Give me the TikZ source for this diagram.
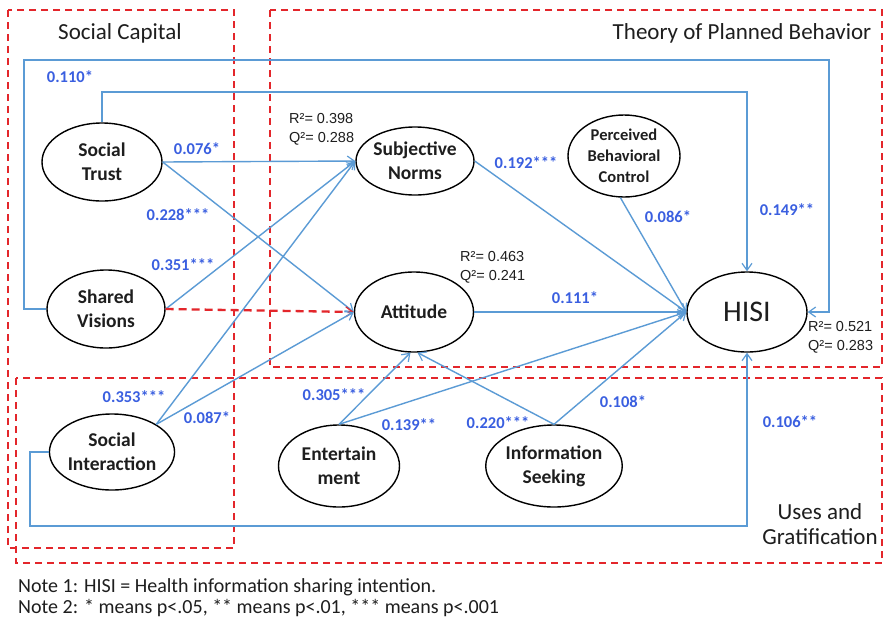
\documentclass[tikz,border=0pt]{standalone}
\usepackage{fontspec}
\setmainfont{Carlito}
\newfontfamily\arialf{Liberation Sans}
\usetikzlibrary{shapes.geometric,arrows.meta}
\definecolor{lblue}{HTML}{5B9BD5}
\definecolor{tblue}{HTML}{3A5FE0}
\definecolor{dred}{HTML}{E3262B}
\definecolor{txt}{HTML}{1E1E1E}
\begin{document}
\begin{tikzpicture}[x=1pt,y=-1pt,
  ell/.style={ellipse, draw=black, line width=1.4pt, inner sep=0pt, align=center,
    font=\fontsize{19.5}{24}\selectfont\bfseries, text=txt},
  bl/.style={draw=lblue, line width=1.4pt},
  arr/.style={-{Straight Barb[length=7pt,width=10pt,line width=1.2pt]}},
  coef/.style={font=\fontsize{16.5}{18}\selectfont\bfseries, text=tblue, inner sep=0pt},
  stat/.style={font=\arialf\fontsize{14.5}{19}\selectfont, text=txt, inner sep=0pt, anchor=west, align=left},
  grp/.style={draw=dred, line width=1.6pt, dash pattern=on 7pt off 5pt},
  ttl/.style={font=\fontsize{23}{25}\selectfont, text=txt, inner sep=0pt, align=center},
  note/.style={font=\fontsize{20}{21}\selectfont, text=txt, inner sep=0pt, anchor=west},
]
\useasboundingbox (0,0) rectangle (884,625);
\fill[white] (0,0) rectangle (884,625);

% group boxes
\draw[grp] (8,10) rectangle (234,548);
\draw[grp] (270,10) rectangle (882,367);
\draw[grp] (16,378) rectangle (882,563);

% titles
\node[ttl] (tsc) at (120,33) {Social Capital};
\node[ttl] (ttpb) at (742,33) {Theory of Planned Behavior};
\node[ttl] (tug) at (820,524) {Uses and\\Gratification};

% constructs
\node[ell, minimum width=120pt, minimum height=78pt] (st) at (102,162) {Social\\Trust};
\node[ell, minimum width=118pt, minimum height=78pt] (sv) at (106,309) {Shared\\Visions};
\node[ell, minimum width=121pt, minimum height=76pt] (si) at (112,452) {Social\\Interaction};
\node[ell, minimum width=118pt, minimum height=68pt] (sn) at (415,161) {Subjective\\Norms};
\node[ell, minimum width=112pt, minimum height=82pt, font=\fontsize{16.5}{21}\selectfont\bfseries] (pbc) at (624,156) {Perceived\\Behavioral\\Control};
\node[ell, minimum width=119pt, minimum height=80pt] (att) at (414,312) {Attitude};
\node[ell, minimum width=120pt, minimum height=80pt, font=\fontsize{30}{32}\selectfont] (hisi) at (747,312) {HISI};
\node[ell, minimum width=121pt, minimum height=82pt] (ent) at (339,466) {Entertain\\ment};
\node[ell, minimum width=122pt, minimum height=82pt] (is) at (554,466) {Information\\Seeking};

% loop corners
\coordinate (o1) at (24,60);
\coordinate (o2) at (829,60);
\coordinate (i1) at (747,92);
\coordinate (b1) at (30,526);

% paths
\draw[bl,arr] (sv.west) -| (o1) -- (o2) |- (hisi.east);
\draw[bl,arr] (st.north) |- (i1) -- (hisi.north);
\draw[bl,arr] (si.west) -| (b1) -| (hisi.south);

\draw[bl,arr] (st.east) -- (sn.west);
\draw[bl,arr] (st.east) -- (att.west);
\draw[bl,arr] (sv.east) -- (sn.west);
\draw[grp,arr,line width=2.3pt,dash pattern=on 8pt off 5pt] (sv.east) -- (att.west);
\draw[bl,arr] (si.32) -- (sn.west);
\draw[bl,arr] (si.32) -- (att.west);
\draw[bl,arr] (ent.north) -- (att.265);
\draw[bl,arr] (ent.north) -- (hisi.west);
\draw[bl,arr] (is.north) -- (att.275);
\draw[bl,arr] (is.north) -- (hisi.west);
\draw[bl,arr] (sn.east) -- (hisi.west);
\draw[bl,arr] (pbc.265) -- (hisi.west);
\draw[bl,arr] (att.east) -- (hisi.west);

% coefficients
\node[coef] (c1) at (70,77) {0.110*};
\node[coef] (c2) at (197,149) {0.076*};
\node[coef] (c3) at (178,215) {0.228***};
\node[coef] (c4) at (183,265) {0.351***};
\node[coef] (c5) at (134,397) {0.353***};
\node[coef] (c6) at (207,418) {0.087*};
\node[coef] (c7) at (334,395) {0.305***};
\node[coef] (c8) at (409,425) {0.139**};
\node[coef] (c9) at (498,423) {0.220***};
\node[coef] (c10) at (623,402) {0.108*};
\node[coef] (c11) at (790,422) {0.106**};
\node[coef] (c12) at (526,163) {0.192***};
\node[coef] (c13) at (668,217) {0.086*};
\node[coef] (c14) at (787,210) {0.149**};
\node[coef] (c15) at (575,298) {0.111*};

% R2 / Q2
\node[stat] (s1) at (289,129) {R²= 0.398\\Q²= 0.288};
\node[stat] (s2) at (460,267) {R²= 0.463\\Q²= 0.241};
\node[stat] (s3) at (808,337) {R²= 0.521\\Q²= 0.283};

% notes
\node[note] (n1) at (18,587) {Note 1: HISI = Health information sharing intention.};
\node[note] (n2) at (18,608) {Note 2: * means p<.05, ** means p<.01, *** means p<.001};
\end{tikzpicture}
\end{document}
